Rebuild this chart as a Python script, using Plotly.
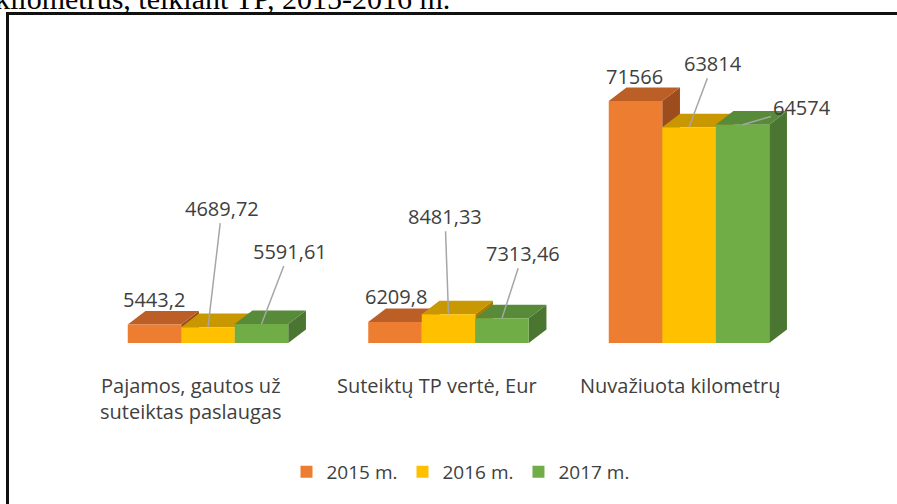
import plotly.graph_objects as go

# ---------------- data ----------------
categories = ["Pajamos, gautos už<br>suteiktas paslaugas", "Suteiktų TP vertė, Eur", "Nuvažiuota kilometrų"]
series_names = ["2015 m.", "2016 m.", "2017 m."]
values_2015 = [5443.2, 6209.8, 71566]
values_2016 = [4689.72, 8481.33, 63814]
values_2017 = [5591.61, 7313.46, 64574]
series_values = [values_2015, values_2016, values_2017]
title_text = "kilometrus, teikiant TP, 2015-2016 m."

# ---------------- style ----------------
front_colors = ["#ED7D31", "#FFC000", "#70AD47"]
top_colors = ["#BC5F26", "#C99700", "#578A39"]
side_colors = ["#9D4C1E", "#A67D00", "#4B7631"]
text_color = "#404040"
leader_color = "#A6A6A6"
FONT = "Open Sans"

W, H = 897, 504
PX_PER_CAT = 240.5          # px between category centres
X0_PX = 208                 # px of first category centre
BASE_PX = 343               # px of the bar base line
PX_PER_UNIT = 0.003381      # px per value unit
BAR_W = 53.5 / PX_PER_CAT
DEPTH_DX = 17.7 / PX_PER_CAT
DEPTH_DY = 13.6 / PX_PER_UNIT

x_range = [-X0_PX / PX_PER_CAT, (W - X0_PX) / PX_PER_CAT]
y_range = [0, BASE_PX / PX_PER_UNIT]

# label offsets (px) per series per category: (ax, ay, leader)
label_offsets = [
    [(-1, -25, False), (1, -26, False), (-1, -25, False)],
    [(14, -119, True), (-3.5, -98, True), (24, -64, True)],
    [(28, -73, True), (21, -65, True), (59, -17, True)],
]
cat_label_shift_px = [-17.5, -12, -8.5]


def px_x(p):
    return p / W


def px_y(p):
    return (BASE_PX - p) / BASE_PX


fig = go.Figure()

# side faces
for j, vals in enumerate(series_values):
    xs, ys = [], []
    for i, v in enumerate(vals):
        xc = i + (j - 1) * BAR_W
        x1 = xc + BAR_W / 2
        xs += [x1, x1, x1 + DEPTH_DX, x1 + DEPTH_DX, x1, None]
        ys += [0, v, v + DEPTH_DY, DEPTH_DY, 0, None]
    fig.add_trace(go.Scatter(x=xs, y=ys, mode="lines", fill="toself", fillcolor=side_colors[j],
                             line=dict(width=0), showlegend=False, hoverinfo="skip"))

# top faces
for j, vals in enumerate(series_values):
    xs, ys = [], []
    for i, v in enumerate(vals):
        xc = i + (j - 1) * BAR_W
        x0 = xc - BAR_W / 2
        x1 = xc + BAR_W / 2
        xs += [x0, x1, x1 + DEPTH_DX, x0 + DEPTH_DX, x0, None]
        ys += [v, v, v + DEPTH_DY, v + DEPTH_DY, v, None]
    fig.add_trace(go.Scatter(x=xs, y=ys, mode="lines", fill="toself", fillcolor=top_colors[j],
                             line=dict(width=0), showlegend=False, hoverinfo="skip"))

# front faces (bars, on overlaying axes so they sit above the faces)
for j, vals in enumerate(series_values):
    xs = [i + (j - 1) * BAR_W for i in range(len(vals))]
    fig.add_trace(go.Bar(x=xs, y=vals, width=BAR_W, name=series_names[j],
                         marker=dict(color=front_colors[j], line=dict(width=0)),
                         xaxis="x2", yaxis="y2"))

annotations = []
for j, vals in enumerate(series_values):
    for i, v in enumerate(vals):
        ax, ay, leader = label_offsets[j][i]
        annotations.append(dict(
            x=i + (j - 1) * BAR_W, y=v, xref="x", yref="y",
            text=f"{v:g}".replace(".", ","),
            showarrow=True, arrowhead=0, arrowwidth=1.5,
            arrowcolor=leader_color if leader else "rgba(0,0,0,0)",
            ax=ax, ay=ay, standoff=0,
            font=dict(family=FONT, size=20, color=text_color)))

for i, c in enumerate(categories):
    annotations.append(dict(
        x=i + cat_label_shift_px[i] / PX_PER_CAT, y=0, xref="x", yref="y",
        xanchor="center", yanchor="top", yshift=-27,
        text=c, showarrow=False,
        font=dict(family=FONT, size=20, color=text_color)))

annotations.append(dict(
    x=px_x(452), y=px_y(17), xref="paper", yref="paper",
    xanchor="right", yanchor="bottom", text=title_text, showarrow=False,
    font=dict(family="Liberation Serif", size=30, color="black")))

fig.update_layout(
    width=W, height=H,
    margin=dict(l=0, r=0, t=0, b=H - BASE_PX, autoexpand=False),
    paper_bgcolor="white", plot_bgcolor="white",
    barmode="overlay",
    xaxis=dict(range=x_range, visible=False, fixedrange=True),
    yaxis=dict(range=y_range, visible=False, fixedrange=True),
    xaxis2=dict(range=x_range, visible=False, overlaying="x", fixedrange=True),
    yaxis2=dict(range=y_range, visible=False, overlaying="y", fixedrange=True),
    showlegend=True,
    hovermode=False,
    legend=dict(orientation="h", xref="container", yref="container",
                x=460.5 / W, y=1 - 472 / H, xanchor="center", yanchor="middle",
                font=dict(family=FONT, size=19, color=text_color),
                traceorder="normal", itemclick=False, itemdoubleclick=False),
    annotations=annotations,
    shapes=[dict(type="rect", xref="paper", yref="paper",
                 x0=px_x(7.5), x1=px_x(W + 20), y0=px_y(H + 30), y1=px_y(13.5),
                 line=dict(color="#111111", width=3), fillcolor="rgba(0,0,0,0)", layer="above")],
)

fig.write_html("out.html",
               config={"displayModeBar": False, "staticPlot": False},
               post_script="document.body.style.margin='0';document.body.style.overflow='hidden';")
